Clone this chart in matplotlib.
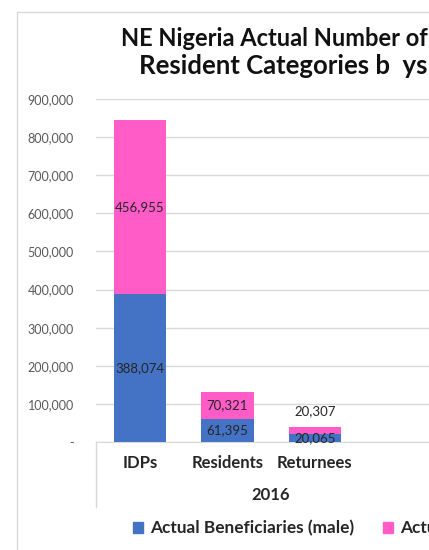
import numpy as np
import matplotlib.pyplot as plt
from matplotlib.patches import Rectangle
from matplotlib.lines import Line2D

plt.rcParams['font.family'] = ['Lato', 'DejaVu Sans']

categories = ['IDPs', 'Residents', 'Returnees', '']
male = [388074, 61395, 20065, 0]
female = [456955, 70321, 20307, 0]
year = '2016'
yticks = [0, 100000, 200000, 300000, 400000, 500000, 600000, 700000, 800000, 900000]

blue = '#4472C4'
pink = '#FF5CC8'
W, H = 429, 550

fig = plt.figure(figsize=(W / 100, H / 100), dpi=100)

# chart frame (runs off the right/bottom edge like the cropped original)
fig.patches.append(Rectangle((17 / W, -0.1), 2, 1 - 12 / H + 0.1, transform=fig.transFigure,
                             fill=False, edgecolor='#D9D9D9', linewidth=1))

ax = fig.add_axes([96 / W, 1 - 442 / H, 350 / W, (442 - 99) / H])
x = np.arange(len(categories))
ax.bar(x, male, width=0.6, color=blue, zorder=3)
ax.bar(x, female, width=0.6, bottom=male, color=pink, zorder=3)

for i in range(3):
    ax.text(x[i], male[i] / 2, f'{male[i]:,}', ha='center', va='center', fontsize=9.5,
            color='#262626', zorder=4)
    if female[i] > 30000:
        ax.text(x[i], male[i] + female[i] / 2, f'{female[i]:,}', ha='center', va='center',
                fontsize=9.5, color='#262626', zorder=4)
    else:
        ax.annotate(f'{female[i]:,}', (x[i], male[i] + female[i] / 2), xytext=(0, 14),
                    textcoords='offset points', ha='center', va='center', fontsize=9.5,
                    color='#262626', zorder=4)

ax.set_xlim(-0.5, len(categories) - 0.5)
ax.set_ylim(0, 900000)
ax.set_yticks(yticks)
ax.set_yticklabels(['-'] + [f'{v:,}' for v in yticks[1:]], fontsize=9, color='#595959')
ax.set_xticks(x[:3])
ax.set_xticklabels(categories[:3], fontsize=12, fontweight='bold', color='#262626')
ax.tick_params(axis='y', length=0, pad=16)
ax.tick_params(axis='x', length=0, pad=9)
ax.grid(axis='y', color='#D9D9D9', linewidth=1, zorder=0)
for s in ['top', 'right', 'left']:
    ax.spines[s].set_visible(False)
ax.spines['bottom'].set_color('#D9D9D9')

# multi-level category axis
ax.add_line(Line2D([0, 0], [0, -65 / (442 - 99)], transform=ax.transAxes, color='#D9D9D9',
                   linewidth=1, clip_on=False))
ax.text(0.5, -53 / (442 - 99), year, transform=ax.transAxes, ha='center', va='center',
        fontsize=12, fontweight='bold', color='#262626')

fig.text(121 / W, 1 - 39 / H, 'NE Nigeria Actual Number of', ha='left', va='center',
         fontsize=17, fontweight='bold', color='#111111')
fig.text(139 / W, 1 - 66 / H, 'Resident Categories b  ys', ha='left', va='center',
         fontsize=18.5, fontweight='bold', color='#111111')

handles = [Rectangle((0, 0), 1, 1, color=blue), Rectangle((0, 0), 1, 1, color=pink)]
fig.legend(handles, ['Actual Beneficiaries (male)', 'Actual Beneficiaries (female)'],
           loc='center left', bbox_to_anchor=(117 / W, 1 - 528 / H), ncol=2, frameon=False,
           handlelength=0.6, handleheight=0.6, handletextpad=0.4, columnspacing=1.7,
           prop={'size': 12.4, 'weight': 'bold'}, labelcolor='#262626')

fig.savefig('out.png', dpi=100)
